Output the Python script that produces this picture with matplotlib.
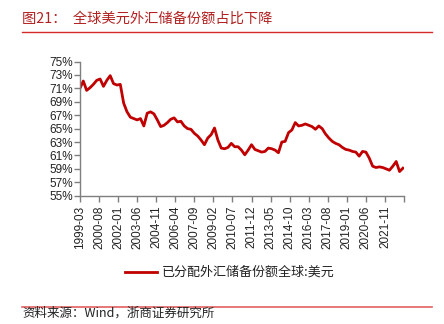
import numpy as np
import matplotlib.pyplot as plt
from matplotlib.lines import Line2D

plt.rcParams['font.family'] = ['Liberation Sans', 'Noto Sans CJK SC', 'DejaVu Sans']

# quarterly USD share of allocated reserves, 1999-03 .. 2023-03
usd_share = [
    71.0, 72.1, 70.7, 71.1, 71.6, 72.2, 72.4, 71.3, 72.2, 72.9,
    71.7, 71.5, 71.6, 68.8, 67.5, 66.7, 66.5, 66.3, 66.5, 65.4,
    67.3, 67.5, 67.2, 66.3, 65.3, 65.5, 65.9, 66.4, 66.6, 66.0,
    66.1, 65.4, 65.0, 64.9, 64.3, 63.9, 63.3, 62.6, 63.6, 64.1,
    65.1, 63.3, 62.1, 62.0, 62.2, 62.8, 62.3, 62.3, 61.8, 61.1,
    61.8, 62.6, 61.9, 61.7, 61.5, 61.6, 62.1, 62.0, 61.8, 61.4,
    63.0, 63.1, 64.4, 64.8, 65.9, 65.4, 65.5, 65.7, 65.5, 65.3,
    64.9, 65.4, 65.0, 64.2, 63.6, 63.1, 62.8, 62.6, 62.2, 61.9,
    61.8, 61.6, 61.5, 60.9, 61.6, 61.5, 60.6, 59.4, 59.2, 59.3,
    59.2, 59.0, 58.8, 59.4, 60.1, 58.6, 59.1,
]
tick_labels = ['1999-03', '2000-08', '2002-01', '2003-06', '2004-11', '2006-04',
               '2007-09', '2009-02', '2010-07', '2011-12', '2013-05', '2014-10',
               '2016-03', '2017-08', '2019-01', '2020-06', '2021-11', '']
yticks = list(range(55, 77, 2))

months = np.arange(len(usd_share)) * 3  # months since 1999-03

fig = plt.figure(figsize=(4.44, 3.24), dpi=100)
ax = fig.add_axes([0.180, 0.396, 0.730, 0.414])

red = '#C00000'
ax.plot(months, usd_share, color=red, lw=2.0, solid_joinstyle='round')

ax.set_xlim(0, 289)
ax.set_xticks(np.arange(0, 290, 17))
ax.set_xticklabels(tick_labels, rotation=90, fontsize=8.5)
ax.set_ylim(55, 75)
ax.set_yticks(yticks)
ax.set_yticklabels([f'{v}%' for v in yticks], fontsize=8.5)

for s in ['top', 'right']:
    ax.spines[s].set_visible(False)
for s in ['left', 'bottom']:
    ax.spines[s].set_color('#7f7f7f')
    ax.spines[s].set_linewidth(1.0)
ax.tick_params(axis='both', colors='#7f7f7f', labelcolor='#222222', length=4, width=1.0)
ax.tick_params(axis='x', pad=3)
ax.tick_params(axis='y', pad=1)

# title and rules
fig.text(0.050, 0.942, '图21：  全球美元外汇储备份额占比下降', color='#B22222',
         fontsize=10.3, family=['Noto Sans CJK SC', 'DejaVu Sans'], va='center')
fig.add_artist(Line2D([0.050, 0.973], [0.901, 0.901], color='#D42A2A', lw=1.0))
fig.add_artist(Line2D([0.050, 0.973], [0.053, 0.053], color='#E06060', lw=1.2))

# legend
fig.add_artist(Line2D([0.281, 0.354], [0.160, 0.160], color=red, lw=2.0))
fig.text(0.365, 0.160, '已分配外汇储备份额全球:美元', fontsize=9.4,
         family=['Noto Sans CJK SC', 'DejaVu Sans'], va='center', color='#222222')

fig.text(0.050, 0.012, '资料来源：Wind，浙商证券研究所', fontsize=9,
         family=['Noto Sans CJK SC', 'DejaVu Sans'], va='bottom', color='#222222')

fig.savefig('out.png', dpi=100)
